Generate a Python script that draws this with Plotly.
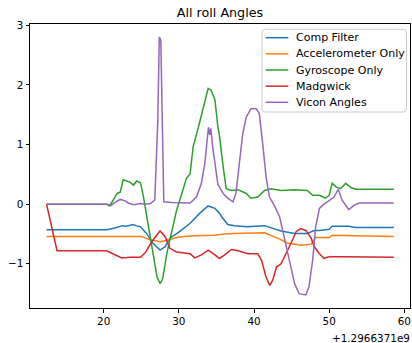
import plotly.graph_objects as go

# ---- data (times relative to offset, seconds) ----
time_offset_label = "+1.2966371e9"
x_tick_vals = [20, 30, 40, 50, 60]
y_tick_vals = [-1, 0, 1, 2, 3]

comp_t = [12.4, 20.4, 21.5, 22.2, 22.5, 23.0, 23.9, 24.3, 24.9, 25.7, 26.6, 27.5, 28.2, 28.8, 30.1,
          31.5, 32.8, 33.9, 34.8, 35.4, 35.7, 36.5, 37.4, 39.1, 41.4, 43.6, 45.4, 47.1, 48.0,
          48.7, 50.0, 50.4, 52.6, 53.5, 58.6]
comp_y = [-0.43, -0.43, -0.40, -0.38, -0.36, -0.37, -0.34, -0.36, -0.38, -0.49, -0.66, -0.77, -0.71, -0.57, -0.46,
          -0.32, -0.15, -0.03, -0.07, -0.15, -0.21, -0.34, -0.36, -0.38, -0.36, -0.45, -0.49, -0.49, -0.44,
          -0.44, -0.42, -0.37, -0.37, -0.39, -0.39]

acc_t = [12.4, 25.0, 26.0, 27.0, 27.5, 28.3, 29.0, 30.0, 32.0, 34.8, 36.0, 37.4, 41.4, 42.7, 43.5,
         44.4, 46.3, 47.6, 48.2, 50.0, 50.4, 53.5, 58.6]
acc_y = [-0.54, -0.54, -0.59, -0.62, -0.63, -0.61, -0.58, -0.55, -0.53, -0.52, -0.50, -0.49, -0.48, -0.54, -0.59,
         -0.65, -0.69, -0.67, -0.56, -0.56, -0.52, -0.53, -0.54]

gyro_t = [12.4, 20.4, 20.8, 21.8, 22.2, 22.6, 23.5, 23.96, 24.4, 24.9, 25.3, 26.0, 26.6, 27.1, 27.5,
          27.85, 28.4, 29.05, 29.7, 30.4, 31.0, 31.5, 31.9, 32.6, 33.2, 33.9, 34.3, 34.8, 35.2, 35.4,
          35.9, 36.3, 37.0, 37.9, 38.97, 39.6, 40.5, 41.4, 42.3, 43.6, 45.4, 47.1, 47.8, 48.7, 49.5,
          50.0, 50.4, 50.9, 51.5, 52.2, 52.9, 53.5, 58.6]
gyro_y = [0.0, 0.0, -0.03, 0.18, 0.20, 0.41, 0.37, 0.32, 0.39, 0.36, 0.12, -0.38, -0.88, -1.22, -1.33,
          -1.25, -0.83, -0.44, -0.10, 0.18, 0.43, 0.51, 0.96, 1.29, 1.57, 1.94, 1.91, 1.75, 1.29, 1.15,
          0.62, 0.26, 0.23, 0.24, 0.18, 0.10, 0.12, 0.23, 0.26, 0.23, 0.24, 0.23, 0.15, 0.15, 0.10,
          0.15, 0.35, 0.29, 0.26, 0.35, 0.28, 0.25, 0.25]

madg_t = [12.4, 13.8, 20.4, 21.0, 22.4, 23.5, 24.9, 25.5, 26.4, 27.5, 28.2, 28.8, 29.7, 31.5, 32.1,
          33.0, 33.9, 34.8, 35.4, 36.1, 37.0, 37.9, 39.2, 40.5, 41.0, 41.6, 42.1, 42.5, 43.0, 43.6,
          44.3, 44.9, 45.6, 46.2, 46.9, 47.6, 48.0, 48.7, 49.3, 50.0, 51.7, 58.6]
madg_y = [0.0, -0.78, -0.78, -0.82, -0.90, -0.89, -0.89, -0.82, -0.63, -0.45, -0.55, -0.74, -0.80, -0.83, -0.90,
          -0.85, -0.77, -0.85, -0.91, -0.85, -0.76, -0.78, -0.83, -0.83, -0.94, -1.22, -1.36, -1.27, -1.05, -1.00,
          -0.83, -0.66, -0.46, -0.41, -0.44, -0.57, -0.71, -0.83, -0.91, -0.88, -0.88, -0.89]

vicon_t = [12.4, 20.4, 21.0, 21.5, 22.2, 22.8, 23.3, 24.0, 24.9, 25.5, 26.2, 26.8, 27.2, 27.4, 27.6,
           27.8, 28.0, 29.0, 30.0, 31.5, 32.35, 33.0, 33.45, 33.8, 33.94, 34.1, 34.25, 34.5, 34.8, 35.2,
           35.9, 36.5, 37.2, 37.6, 38.1, 38.5, 38.97, 39.6, 40.3, 40.7, 41.2, 41.6, 42.05, 42.7, 43.4,
           44.0, 44.7, 45.4, 46.0, 46.9, 47.3, 47.8, 48.2, 48.7, 49.1, 50.0, 50.65, 51.2, 51.7, 52.6,
           53.3, 53.95, 58.6]
vicon_y = [0.0, 0.0, -0.02, 0.03, 0.08, 0.06, 0.02, -0.01, 0.01, 0.0, 0.01, 0.07, 1.4, 2.8, 2.75,
           1.07, 0.04, 0.03, 0.03, 0.02, 0.12, 0.35, 0.68, 1.07, 1.29, 1.16, 1.27, 0.96, 0.65, 0.33,
           0.18, 0.10, 0.04, 0.18, 0.74, 1.18, 1.46, 1.60, 1.60, 1.52, 0.96, 0.46, 0.12, -0.02, -0.21,
           -0.55, -0.94, -1.33, -1.50, -1.52, -1.39, -0.94, -0.38, -0.07, -0.02, 0.06, 0.12, 0.25, 0.07, -0.09,
           -0.02, 0.02, 0.02]

series_names = ["Comp Filter", "Accelerometer Only", "Gyroscope Only", "Madgwick", "Vicon Angles"]
series_t = [comp_t, acc_t, gyro_t, madg_t, vicon_t]
series_y = [comp_y, acc_y, gyro_y, madg_y, vicon_y]
colors = ["#1f77b4", "#ff7f0e", "#2ca02c", "#d62728", "#9467bd"]

W, H = 412, 343
ML, MR, MT, MB = 30, 2, 24, 35
PW, PH = W - ML - MR, H - MT - MB


def px2x(px):
    return (px - ML) / PW


def px2y(py):
    return (H - MB - py) / PH


fig = go.Figure()
for name, t, y, c in zip(series_names, series_t, series_y, colors):
    fig.add_trace(go.Scatter(x=t, y=y, mode="lines", name=name, showlegend=False,
                             line=dict(color=c, width=1.5)))

axis_common = dict(showline=True, mirror=True, linecolor="black", linewidth=1,
                   ticks="outside", ticklen=3.5, tickcolor="black", showgrid=False,
                   zeroline=False, tickfont=dict(family="DejaVu Sans", size=10.4, color="black"))

fig.update_layout(
    width=W, height=H,
    margin=dict(l=ML, r=MR, t=MT, b=MB),
    paper_bgcolor="white", plot_bgcolor="white",
    title=dict(text="All roll Angles", xref="paper", x=0.5, xanchor="center",
               yref="container", y=1 - 13 / H, yanchor="middle",
               font=dict(family="DejaVu Sans", size=12.7, color="black")),
    xaxis=dict(range=[10.2, 60.75], tickvals=x_tick_vals, **axis_common),
    yaxis=dict(range=[-1.74, 3.02], tickvals=y_tick_vals, **axis_common),
    font=dict(family="DejaVu Sans"),
    showlegend=False,
)

# offset text of the x axis
fig.add_annotation(text=time_offset_label, xref="paper", yref="paper", x=1.0, xshift=2,
                   y=px2y(337.5), xanchor="right", yanchor="middle", showarrow=False,
                   font=dict(family="DejaVu Sans", size=10.4, color="black"))

# legend box (matplotlib-style, rounded corners)
bx0, bx1, by0, by1, r = 262.0, 406.5, 29.3, 112.0, 3.0
path = (f"M {px2x(bx0 + r)},{px2y(by0)} L {px2x(bx1 - r)},{px2y(by0)} "
        f"Q {px2x(bx1)},{px2y(by0)} {px2x(bx1)},{px2y(by0 + r)} "
        f"L {px2x(bx1)},{px2y(by1 - r)} Q {px2x(bx1)},{px2y(by1)} {px2x(bx1 - r)},{px2y(by1)} "
        f"L {px2x(bx0 + r)},{px2y(by1)} Q {px2x(bx0)},{px2y(by1)} {px2x(bx0)},{px2y(by1 - r)} "
        f"L {px2x(bx0)},{px2y(by0 + r)} Q {px2x(bx0)},{px2y(by0)} {px2x(bx0 + r)},{px2y(by0)} Z")
fig.add_shape(type="path", path=path, xref="paper", yref="paper",
              fillcolor="rgba(255,255,255,0.8)", line=dict(color="#cccccc", width=1), layer="above")

row0, row_step = 37.7, 16.15
for i, (name, c) in enumerate(zip(series_names, colors)):
    cy = row0 + i * row_step
    fig.add_shape(type="line", xref="paper", yref="paper",
                  x0=px2x(265.7), x1=px2x(288.3), y0=px2y(cy), y1=px2y(cy),
                  line=dict(color=c, width=1.5), layer="above")
    fig.add_annotation(text=name, xref="paper", yref="paper", x=px2x(296), xshift=-2,
                       y=px2y(cy), xanchor="left", yanchor="middle", showarrow=False,
                       font=dict(family="DejaVu Sans", size=11, color="black"))

fig.write_html("out.html")
